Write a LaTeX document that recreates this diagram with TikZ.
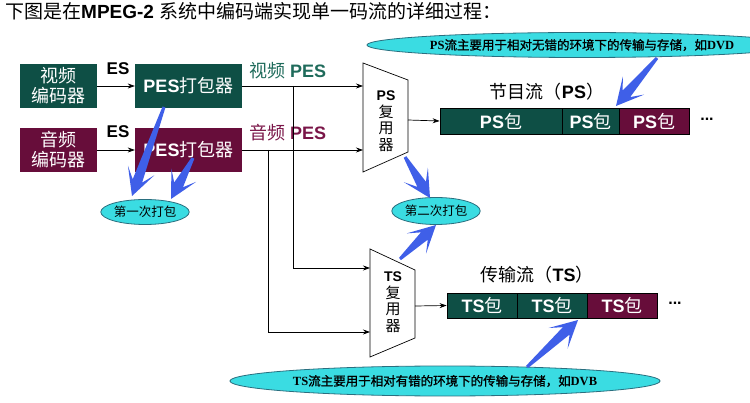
\documentclass[tikz,border=0pt]{standalone}
\usepackage{fontspec}
\setmainfont{Liberation Sans}
\newfontfamily\cjk{Noto Sans CJK SC}
\newfontfamily\cjkb[AutoFakeBold=1.2]{Noto Sans CJK SC}
\newfontfamily\lser{Liberation Serif}
\usetikzlibrary{calc,shapes.geometric,arrows.meta}
\definecolor{teal1}{HTML}{0E4F45}
\definecolor{maroon1}{HTML}{670D3A}
\definecolor{tealtxt}{HTML}{1F6B5B}
\definecolor{maroontxt}{HTML}{7A1548}
\definecolor{cyan1}{HTML}{3ADCE2}
\definecolor{cyanline}{HTML}{2A6F7F}
\definecolor{fatblue}{HTML}{3F5FE8}
\newcommand{\fatarrow}[2]{%
  \path (#1) coordinate (fa-t) (#2) coordinate (fa-h);
  \path ($(fa-h)!16pt!(fa-t)$) coordinate (fa-n) ($(fa-h)!27pt!(fa-t)$) coordinate (fa-b);
  \fill[fatblue] ($(fa-t)!1.5pt!90:(fa-h)$) -- ($(fa-n)!5pt!-90:(fa-t)$)
    -- ($(fa-b)!14pt!-90:(fa-t)$) -- (fa-h) -- ($(fa-b)!14pt!90:(fa-t)$)
    -- ($(fa-n)!5pt!90:(fa-t)$) -- ($(fa-t)!1.5pt!-90:(fa-h)$) -- cycle;
}
\tikzset{
  box/.style={minimum height=44pt, inner sep=0pt, text=white, align=center,
    font=\fontsize{18}{20}\selectfont},
  enc/.style={box, minimum width=77pt, font=\cjk\fontsize{18}{20}\selectfont},
  pes/.style={box, minimum width=107pt},
  pkt/.style={draw=black, line width=0.8pt, inner sep=0pt, text=white,
    font=\fontsize{18}{20}\selectfont},
  lbl/.style={inner sep=0pt, font=\fontsize{18}{20}\selectfont},
  conn/.style={line width=0.7pt, -{Stealth[length=7pt,width=5pt]}},
  line/.style={line width=0.7pt},
  note/.style={ellipse, draw=cyanline, line width=0.8pt, fill=cyan1, inner sep=0pt,
    font=\fontsize{12.5}{14}\selectfont},
  muxtxt/.style={inner sep=0pt, align=center, font=\fontsize{15}{16.5}\selectfont}
}
\begin{document}
\begin{tikzpicture}[x=1pt,y=-1pt]
\useasboundingbox (0,0) rectangle (750,403);
\fill[white] (0,0) rectangle (750,403);
% title
\node[anchor=west, inner sep=0pt, font=\fontsize{19}{21}\selectfont] (title) at (5,11)
  {{\cjk 下图是在}\textbf{MPEG-2 }{\cjk 系统中编码端实现单一码流的详细过程：}};
% encoders and packers
\node[enc, fill=teal1] (encV) at (58.5,86) {视频\\编码器};
\node[enc, fill=maroon1] (encA) at (58.5,150) {音频\\编码器};
\node[pes, fill=teal1] (pesV) at (188.5,86) {\textbf{PES}{\cjk 打包器}};
\node[pes, fill=maroon1] (pesA) at (188.5,150) {\textbf{PES}{\cjk 打包器}};
\draw[conn] (encV) -- (pesV);
\draw[conn] (encA) -- (pesA);
\node[lbl, font=\bfseries\fontsize{17}{19}\selectfont] (esV) at (118,69) {ES};
\node[lbl, font=\bfseries\fontsize{17}{19}\selectfont] (esA) at (118,132) {ES};
\node[lbl, anchor=west, text=tealtxt] (lV) at (249,71) {{\cjk 视频} \textbf{PES}};
\node[lbl, anchor=west, text=maroontxt] (lA) at (249,133) {{\cjk 音频} \textbf{PES}};
% PS mux
\draw[line] (363,63) -- (408,80) -- (408,152) -- (363,172) -- cycle;
\node[muxtxt] (psmux) at (386,121) {\textbf{\fontsize{14}{16.5}\selectfont PS}\\{\cjk 复}\\{\cjk 用}\\{\cjk 器}};
\coordinate (psin1) at (363,86);
\coordinate (psin2) at (363,150);
\coordinate (psout) at (408,120);
% TS mux
\draw[line] (370,249) -- (415,270) -- (415,338) -- (370,357) -- cycle;
\node[muxtxt] (tsmux) at (393,302) {\textbf{\fontsize{14}{16.5}\selectfont TS}\\{\cjk 复}\\{\cjk 用}\\{\cjk 器}};
\coordinate (tsin1) at (370,268);
\coordinate (tsin2) at (370,332);
\coordinate (tsout) at (415,306);
% connectors to muxes
\coordinate (jV) at (293,86);
\coordinate (jA) at (268,150);
\draw[conn] (pesV.east) -- (psin1);
\draw[conn] (pesA.east) -- (psin2);
\draw[conn] (jV) |- (tsin1);
\draw[conn] (jA) |- (tsin2);
% PS packets
\node[pkt, fill=teal1, minimum width=122pt, minimum height=26pt] (ps1) at (501,121) {\textbf{PS}{\cjk 包}};
\node[pkt, fill=teal1, minimum width=57pt, minimum height=26pt] (ps2) at (590.5,121) {\textbf{PS}{\cjk 包}};
\node[pkt, fill=maroon1, minimum width=70pt, minimum height=26pt] (ps3) at (654,121) {\textbf{PS}{\cjk 包}};
\node[lbl, font=\bfseries\fontsize{16}{18}\selectfont] (psdots) at (707,119) {...};
\draw[conn] (psout) -- (ps1.west);
\node[lbl] (pslbl) at (547,92) {{\cjk 节目流（}\textbf{PS}{\cjk ）}};
% TS packets
\node[pkt, fill=teal1, minimum width=70pt, minimum height=25pt] (ts1) at (482,305.5) {\textbf{TS}{\cjk 包}};
\node[pkt, fill=teal1, minimum width=70pt, minimum height=25pt] (ts2) at (552,305.5) {\textbf{TS}{\cjk 包}};
\node[pkt, fill=maroon1, minimum width=70pt, minimum height=25pt] (ts3) at (622,305.5) {\textbf{TS}{\cjk 包}};
\node[lbl, font=\bfseries\fontsize{16}{18}\selectfont] (tsdots) at (675,303) {...};
\draw[conn] (tsout) -- (ts1.west);
\node[lbl] (tslbl) at (537,275) {{\cjk 传输流（}\textbf{TS}{\cjk ）}};
% notes
\node[note, minimum width=329pt, minimum height=25pt] (noteP) at (582,45)
  {{\lser\bfseries PS}{\cjkb\bfseries 流主要用于相对无错的环境下的传输与存储，如}{\lser\bfseries DVD}};
\node[note, minimum width=327pt, minimum height=30pt] (noteT) at (445,381)
  {{\lser\bfseries TS}{\cjkb\bfseries 流主要用于相对有错的环境下的传输与存储，如}{\lser\bfseries DVB}};
\node[note, minimum width=69pt, minimum height=25pt] (first) at (145,212) {\cjk 第一次打包};
\node[note, minimum width=69pt, minimum height=27pt] (second) at (436,211) {\cjk 第二次打包};
% fat arrows
\coordinate (a1t) at (164,107); \coordinate (a1h) at (132,196);
\coordinate (a2t) at (193,158); \coordinate (a2h) at (171,199);
\coordinate (a3t) at (405,157); \coordinate (a3h) at (430,198);
\coordinate (a4t) at (400,259); \coordinate (a4h) at (436,225);
\coordinate (a5t) at (657,58);  \coordinate (a5h) at (616,106);
\coordinate (a6t) at (527,367); \coordinate (a6h) at (578,320);
\fatarrow{a1t}{a1h}
\fatarrow{a2t}{a2h}
\fatarrow{a3t}{a3h}
\fatarrow{a4t}{a4h}
\fatarrow{a5t}{a5h}
\fatarrow{a6t}{a6h}
\end{tikzpicture}
\end{document}
